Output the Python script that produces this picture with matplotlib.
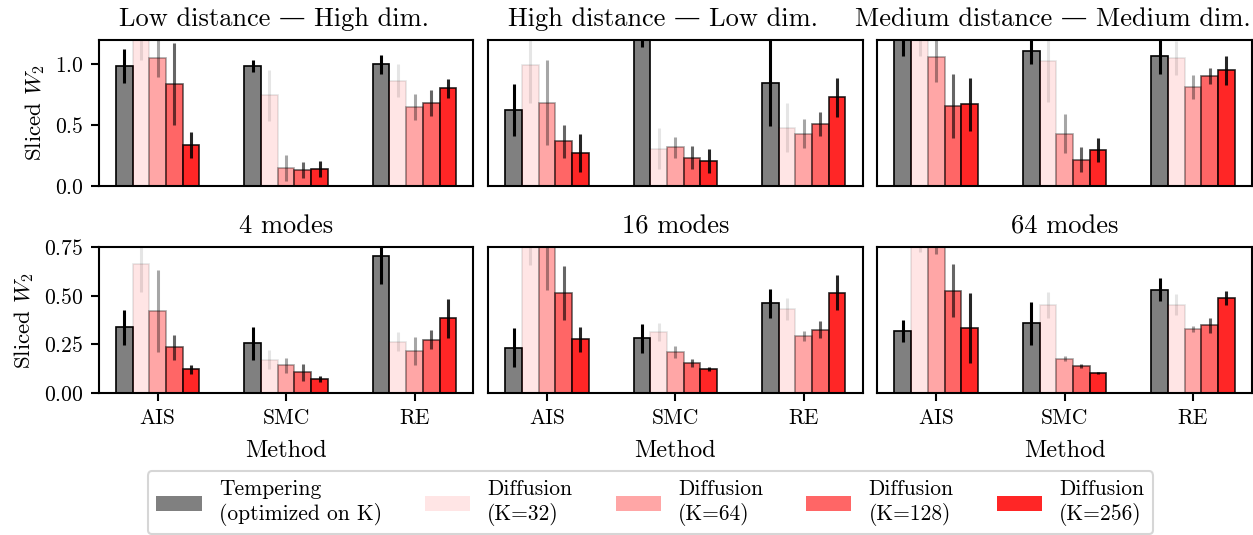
import numpy as np
import matplotlib
matplotlib.use("Agg")
import matplotlib.pyplot as plt
from matplotlib.ticker import MultipleLocator
from matplotlib.patches import Patch

plt.rcParams['font.family'] = ['cmr10', 'DejaVu Serif']
plt.rcParams['mathtext.fontset'] = 'cm'
plt.rcParams['axes.formatter.use_mathtext'] = True
plt.rcParams['axes.unicode_minus'] = False

methods = ['AIS', 'SMC', 'RE']
series_labels = ['Tempering\n(optimized on K)', 'Diffusion\n(K=32)', 'Diffusion\n(K=64)',
                 'Diffusion\n(K=128)', 'Diffusion\n(K=256)']
top_titles = ['Low distance — High dim.', 'High distance — Low dim.', 'Medium distance — Medium dim.']
bottom_titles = ['4 modes', '16 modes', '64 modes']

# rows: tempering, K=32, K=64, K=128, K=256 ; columns: AIS, SMC, RE
low_high_mean = [[0.986, 0.986, 1.000],
                 [1.250, 0.747, 0.867],
                 [1.050, 0.147, 0.647],
                 [0.839, 0.130, 0.686],
                 [0.336, 0.139, 0.803]]
low_high_err = [[0.140, 0.047, 0.075],
                [0.210, 0.210, 0.136],
                [0.150, 0.105, 0.108],
                [0.340, 0.063, 0.107],
                [0.110, 0.067, 0.080]]

high_low_mean = [[0.625, 1.400, 0.847],
                 [0.992, 0.306, 0.480],
                 [0.683, 0.317, 0.430],
                 [0.367, 0.233, 0.511],
                 [0.269, 0.206, 0.728]]
high_low_err = [[0.210, 0.260, 0.350],
                [0.310, 0.167, 0.200],
                [0.350, 0.086, 0.117],
                [0.137, 0.093, 0.100],
                [0.155, 0.097, 0.160]]

medium_mean = [[1.250, 1.111, 1.072],
               [1.220, 1.030, 1.056],
               [1.058, 0.430, 0.814],
               [0.658, 0.217, 0.906],
               [0.672, 0.297, 0.953]]
medium_err = [[0.180, 0.110, 0.150],
              [0.150, 0.340, 0.140],
              [0.200, 0.160, 0.100],
              [0.260, 0.105, 0.067],
              [0.218, 0.100, 0.120]]

modes4_mean = [[0.339, 0.257, 0.704],
               [0.665, 0.170, 0.264],
               [0.423, 0.143, 0.216],
               [0.235, 0.106, 0.274],
               [0.121, 0.072, 0.385]]
modes4_err = [[0.090, 0.085, 0.145],
              [0.145, 0.049, 0.049],
              [0.210, 0.039, 0.071],
              [0.065, 0.043, 0.050],
              [0.025, 0.016, 0.100]]

modes16_mean = [[0.234, 0.281, 0.462],
                [0.820, 0.315, 0.433],
                [0.780, 0.211, 0.293],
                [0.513, 0.155, 0.326],
                [0.276, 0.123, 0.516]]
modes16_err = [[0.099, 0.074, 0.075],
               [0.160, 0.045, 0.056],
               [0.250, 0.032, 0.027],
               [0.138, 0.022, 0.045],
               [0.066, 0.011, 0.090]]

modes64_mean = [[0.319, 0.358, 0.532],
                [0.780, 0.452, 0.455],
                [0.760, 0.176, 0.331],
                [0.527, 0.140, 0.348],
                [0.334, 0.104, 0.488]]
modes64_err = [[0.058, 0.112, 0.060],
               [0.054, 0.065, 0.054],
               [0.043, 0.012, 0.015],
               [0.137, 0.011, 0.039],
               [0.180, 0.005, 0.036]]

panels = [(low_high_mean, low_high_err), (high_low_mean, high_low_err), (medium_mean, medium_err),
          (modes4_mean, modes4_err), (modes16_mean, modes16_err), (modes64_mean, modes64_err)]

face_colors = ['#808080', 'red', 'red', 'red', 'red']
alphas = [1.0, 0.1, 0.35, 0.6, 0.85]
width = 0.13

fig, axes = plt.subplots(2, 3, figsize=(12.53, 5.35), dpi=100)
fig.subplots_adjust(left=0.079, right=0.999, top=0.925, bottom=0.2654, wspace=0.04, hspace=0.42)

x = np.arange(len(methods))
for k, ax in enumerate(axes.flat):
    mean, err = panels[k]
    for i in range(5):
        ax.bar(x + (i - 2) * width, mean[i], width, yerr=err[i], color=face_colors[i],
               alpha=alphas[i], edgecolor='black', linewidth=1.2,
               error_kw=dict(elinewidth=2.2, ecolor='black', capsize=0, alpha=alphas[i]))
    for s in ax.spines.values():
        s.set_linewidth(1.5)
    ax.tick_params(labelsize=15.5, width=1.5, length=6, pad=5)
    row, col = divmod(k, 3)
    if row == 0:
        ax.set_ylim(0, 1.2)
        ax.yaxis.set_major_locator(MultipleLocator(0.5))
        t = ax.set_title(top_titles[col], fontsize=19, pad=10)
        t.set_x(0.468)
        ax.set_xticks([])
    else:
        ax.set_ylim(0, 0.75)
        ax.yaxis.set_major_locator(MultipleLocator(0.25))
        ax.set_title(bottom_titles[col], fontsize=19, pad=10)
        ax.set_xticks(x)
        ax.set_xticklabels(methods)
        ax.set_xlabel('Method', fontsize=17.5, labelpad=9)
    if col == 0:
        ax.set_ylabel('Sliced $W_2$', fontsize=16.5, labelpad=6)
    else:
        ax.set_yticks([])

handles = [Patch(facecolor=face_colors[i], alpha=alphas[i]) for i in range(5)]
leg = fig.legend(handles, series_labels, loc='center', bbox_to_anchor=(0.519, 0.06), ncol=5,
                 fontsize=15.5, handlelength=2.1, handleheight=0.7, handletextpad=0.8,
                 columnspacing=2.0, frameon=True, fancybox=True, borderpad=0.4)
leg.get_frame().set_edgecolor('#cccccc')
leg.get_frame().set_linewidth(1.5)

fig.savefig('out.png', dpi=100)
